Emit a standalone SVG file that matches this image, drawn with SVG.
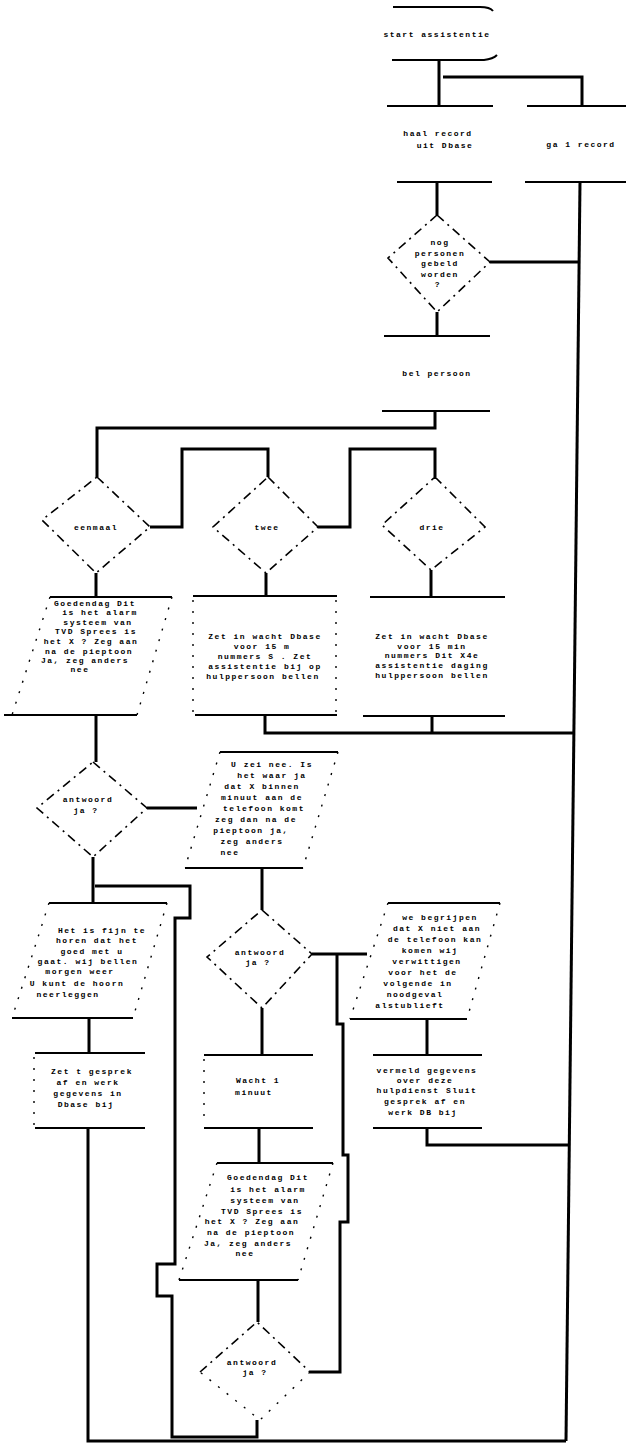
<svg xmlns="http://www.w3.org/2000/svg" width="626" height="1447" viewBox="0 0 626 1447">
<style>
.c{fill:none;stroke:#000;stroke-width:3;stroke-linejoin:miter}
.e{fill:none;stroke:#000;stroke-width:2}
.d{fill:none;stroke:#000;stroke-width:1.6;stroke-dasharray:9 5 2 5}
.s{fill:none;stroke:#000;stroke-width:1.4;stroke-dasharray:2 9}
text{font-family:"Liberation Mono",monospace;font-size:8px;font-weight:bold;letter-spacing:1.5px;text-anchor:middle;fill:#000}
</style>
<rect width="626" height="1447" fill="#fff"/>

<g id="connectors">
<path class="c" d="M439,60 V106"/>
<path class="c" d="M443,77 H582 V106"/>
<path class="c" d="M437,182 V215"/>
<path class="c" d="M490,262 H579"/>
<path class="c" d="M580,182 L566,1441"/>
<path class="c" d="M437,312 V336"/>
<path class="c" d="M435,411 V428 H97 V477"/>
<path class="c" d="M150,527 H182 V449 H268 V477"/>
<path class="c" d="M318,527 H350 V449 H435 V477"/>
<path class="c" d="M96,573 V597"/>
<path class="c" d="M266,573 V596"/>
<path class="c" d="M431,570 V597"/>
<path class="c" d="M265,715 V733 H574"/>
<path class="c" d="M432,716 V733"/>
<path class="c" d="M96,715 V762"/>
<path class="c" d="M147,808 H197"/>
<path class="c" d="M93,857 V903"/>
<path class="c" d="M95,886 H190 V918 H175 V1264 H157 V1296 H172 V1437 H257 V1420"/>
<path class="c" d="M262,868 V910"/>
<path class="c" d="M89,1018 V1053"/>
<path class="c" d="M88,1128 V1441 H566"/>
<path class="c" d="M312,954 H367"/>
<path class="c" d="M337,954 V1024 H343 V1155 H348 V1222 H340 V1372 H310"/>
<path class="c" d="M427,1019 V1055"/>
<path class="c" d="M427,1128 V1145 H568"/>
<path class="c" d="M262,1008 V1055"/>
<path class="c" d="M259,1128 V1163"/>
<path class="c" d="M258,1280 V1322"/>
</g>

<g id="n-start">
<path class="e" d="M393,7 H480 Q490,7 493,11"/>
<path class="e" d="M392,60 H484 Q493,59 497,55"/>
<text x="437" y="37">start assistentie</text>
</g>

<g id="n-haal">
<line class="e" x1="387" y1="106" x2="493" y2="106"/>
<line class="e" x1="397" y1="182" x2="492" y2="182"/>
<text x="438" y="136">haal record</text>
<text x="445" y="148">uit Dbase</text>
</g>

<g id="n-ga">
<line class="e" x1="527" y1="106" x2="626" y2="106"/>
<line class="e" x1="525" y1="182" x2="626" y2="182"/>
<text x="581" y="147">ga 1 record</text>
</g>

<g id="n-nog">
<polygon class="d" points="437,215 490,262 437,312 388,258"/>
<text x="440" y="245">nog</text>
<text x="440" y="256">personen</text>
<text x="440" y="266">gebeld</text>
<text x="440" y="277">worden</text>
<text x="438" y="287">?</text>
</g>

<g id="n-bel">
<line class="e" x1="384" y1="336" x2="490" y2="336"/>
<line class="e" x1="382" y1="411" x2="490" y2="411"/>
<text x="437" y="376">bel persoon</text>
</g>

<g id="n-d1">
<polygon class="d" points="97,477 150,527 96,573 42,520"/>
<text x="96" y="530">eenmaal</text>
</g>
<g id="n-d2">
<polygon class="d" points="268,477 318,527 266,573 213,527"/>
<text x="267" y="530">twee</text>
</g>
<g id="n-d3">
<polygon class="d" points="435,477 485,527 431,570 382,525"/>
<text x="432" y="530">drie</text>
</g>

<g id="n-p1">
<line class="e" x1="50" y1="597" x2="172" y2="597"/>
<line class="e" x1="4" y1="715" x2="137" y2="715"/>
<line class="s" x1="50" y1="597" x2="12" y2="715"/>
<line class="s" x1="172" y1="597" x2="137" y2="715"/>
<text x="95" y="606">Goedendag Dit</text>
<text x="100" y="615">is het alarm</text>
<text x="98" y="625">systeem van</text>
<text x="96" y="634">TVD Sprees is</text>
<text x="91" y="644">het X ? Zeg aan</text>
<text x="89" y="654">na de pieptoon</text>
<text x="85" y="663">Ja, zeg anders</text>
<text x="80" y="672">nee</text>
</g>

<g id="n-b2">
<line class="e" x1="193" y1="596" x2="337" y2="596"/>
<line class="e" x1="195" y1="715" x2="337" y2="715"/>
<line class="s" x1="193" y1="600" x2="193" y2="712"/>
<line class="s" x1="336" y1="600" x2="336" y2="712"/>
<text x="265" y="639">Zet in wacht Dbase</text>
<text x="262" y="649">voor 15 m</text>
<text x="265" y="659">nummers S . Zet</text>
<text x="265" y="669">assistentie bij op</text>
<text x="263" y="679">hulppersoon bellen</text>
</g>

<g id="n-b3">
<line class="e" x1="370" y1="597" x2="505" y2="597"/>
<line class="e" x1="363" y1="716" x2="505" y2="716"/>
<text x="432" y="639">Zet in wacht Dbase</text>
<text x="432" y="649">voor 15 min</text>
<text x="432" y="658">nummers Dit X4e</text>
<text x="432" y="668">assistentie daging</text>
<text x="432" y="678">hulppersoon bellen</text>
</g>

<g id="n-a1">
<polygon class="d" points="93,762 147,808 93,857 37,808"/>
<text x="88" y="802">antwoord</text>
<text x="86" y="813">ja ?</text>
</g>

<g id="n-p2">
<line class="e" x1="220" y1="752" x2="338" y2="752"/>
<line class="e" x1="185" y1="868" x2="303" y2="868"/>
<line class="s" x1="220" y1="752" x2="185" y2="868"/>
<line class="s" x1="338" y1="752" x2="303" y2="868"/>
<text x="272" y="767">U zei nee. Is</text>
<text x="272" y="778">het waar ja</text>
<text x="262" y="789">dat X binnen</text>
<text x="262" y="800">minuut aan de</text>
<text x="264" y="811">telefoon komt</text>
<text x="256" y="822">zeg dan na de</text>
<text x="251" y="833">pieptoon ja,</text>
<text x="252" y="844">zeg anders</text>
<text x="230" y="855">nee</text>
</g>

<g id="n-p3">
<line class="e" x1="49" y1="903" x2="167" y2="903"/>
<line class="e" x1="12" y1="1018" x2="133" y2="1018"/>
<line class="s" x1="49" y1="903" x2="12" y2="1018"/>
<line class="s" x1="167" y1="903" x2="133" y2="1018"/>
<text x="102" y="933">Het is fijn te</text>
<text x="97" y="943">horen dat het</text>
<text x="92" y="954">goed met u</text>
<text x="88" y="964">gaat. wij bellen</text>
<text x="80" y="974">morgen weer</text>
<text x="77" y="986">U kunt de hoorn</text>
<text x="68" y="997">neerleggen</text>
</g>

<g id="n-b4">
<line class="e" x1="35" y1="1053" x2="145" y2="1053"/>
<line class="e" x1="35" y1="1128" x2="145" y2="1128"/>
<line class="s" x1="34" y1="1057" x2="34" y2="1125"/>
<text x="92" y="1074">Zet t gesprek</text>
<text x="88" y="1085">af en werk</text>
<text x="88" y="1096">gegevens in</text>
<text x="86" y="1107">Dbase bij</text>
</g>

<g id="n-a2">
<polygon class="d" points="262,910 312,954 262,1008 207,957"/>
<text x="260" y="955">antwoord</text>
<text x="258" y="965">ja ?</text>
</g>

<g id="n-p4">
<line class="e" x1="388" y1="903" x2="500" y2="903"/>
<line class="e" x1="350" y1="1019" x2="467" y2="1019"/>
<line class="s" x1="388" y1="903" x2="350" y2="1019"/>
<line class="s" x1="500" y1="903" x2="467" y2="1019"/>
<text x="440" y="920">we begrijpen</text>
<text x="437" y="931">dat X niet aan</text>
<text x="435" y="942">de telefoon kan</text>
<text x="430" y="953">komen wij</text>
<text x="427" y="964">verwittigen</text>
<text x="423" y="975">voor het de</text>
<text x="418" y="986">volgende in</text>
<text x="415" y="997">noodgeval</text>
<text x="410" y="1008">alstublieft</text>
</g>

<g id="n-wacht">
<line class="e" x1="204" y1="1055" x2="313" y2="1055"/>
<line class="e" x1="204" y1="1128" x2="313" y2="1128"/>
<line class="s" x1="204" y1="1059" x2="204" y2="1125"/>
<text x="258" y="1083">Wacht 1</text>
<text x="254" y="1095">minuut</text>
</g>

<g id="n-b5">
<line class="e" x1="373" y1="1055" x2="482" y2="1055"/>
<line class="e" x1="373" y1="1128" x2="482" y2="1128"/>
<text x="427" y="1073">vermeld gegevens</text>
<text x="425" y="1083">over deze</text>
<text x="427" y="1093">hulpdienst Sluit</text>
<text x="425" y="1104">gesprek af en</text>
<text x="423" y="1115">werk DB bij</text>
</g>

<g id="n-p5">
<line class="e" x1="217" y1="1163" x2="333" y2="1163"/>
<line class="e" x1="179" y1="1280" x2="298" y2="1280"/>
<line class="s" x1="217" y1="1163" x2="179" y2="1280"/>
<line class="s" x1="333" y1="1163" x2="298" y2="1280"/>
<text x="268" y="1180">Goedendag Dit</text>
<text x="268" y="1192">is het alarm</text>
<text x="265" y="1203">systeem van</text>
<text x="262" y="1214">TVD Sprees is</text>
<text x="252" y="1224">het X ? Zeg aan</text>
<text x="251" y="1235">na de pieptoon</text>
<text x="248" y="1246">Ja, zeg anders</text>
<text x="245" y="1256">nee</text>
</g>

<g id="n-a3">
<polyline class="d" points="200,1372 257,1322 310,1372"/>
<polyline class="s" points="310,1372 260,1420 200,1372"/>
<text x="252" y="1365">antwoord</text>
<text x="255" y="1375">ja ?</text>
</g>
</svg>
